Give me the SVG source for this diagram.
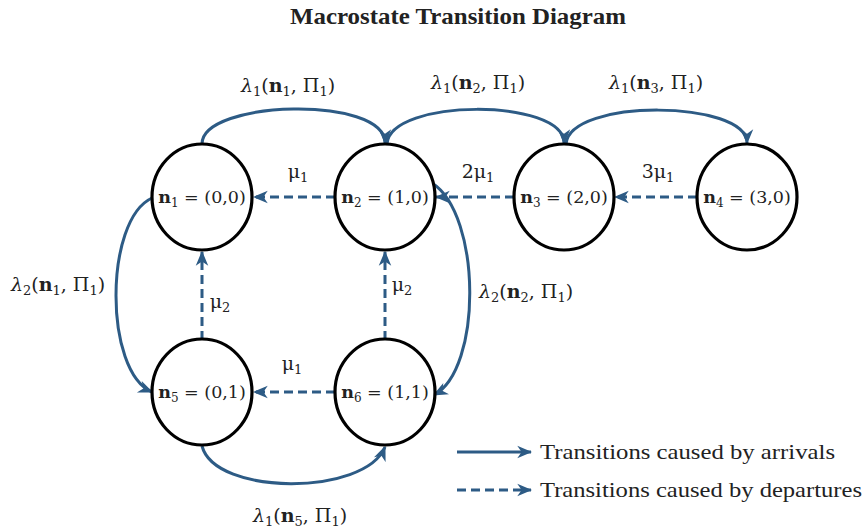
<svg xmlns="http://www.w3.org/2000/svg" width="866" height="531" viewBox="0 0 866 531">
<style>
.t{font-family:"Liberation Serif","DejaVu Serif",serif;fill:#222}
.m{font-family:"DejaVu Serif","Liberation Serif",serif;fill:#222}
.lab{font-size:19px}
.nl{font-size:17.5px}
.b{font-weight:bold}
.node{fill:#fff;stroke:#000;stroke-width:3.2}
.arr{fill:none;stroke:#2d5b85;stroke-width:3}
.dash{fill:none;stroke:#2d5b85;stroke-width:3;stroke-dasharray:9 5}
</style>
<defs>
<marker id="ah" viewBox="0 0 12 10" refX="11" refY="5" markerWidth="5" markerHeight="5" orient="auto" markerUnits="strokeWidth">
<path d="M0,0 L12,5 L0,10 L3.5,5 z" fill="#2d5b85"/>
</marker>
</defs>
<text class="t b" x="290" y="24" font-size="23" textLength="336" lengthAdjust="spacingAndGlyphs">Macrostate Transition Diagram</text>

<g id="connectors">
<path class="arr" d="M202,144 C202,100 385,95 385,143" marker-end="url(#ah)"/>
<path class="arr" d="M387,144 C390,98 564,98 564,143" marker-end="url(#ah)"/>
<path class="arr" d="M566,144 C570,98 747,100 747,143" marker-end="url(#ah)"/>
<path class="dash" d="M335,197 L254,197" marker-end="url(#ah)"/>
<path class="dash" d="M514,197 L436,197" marker-end="url(#ah)"/>
<path class="dash" d="M697,197 L615,197" marker-end="url(#ah)"/>
<path class="dash" d="M335,392 L254,392" marker-end="url(#ah)"/>
<path class="dash" d="M202,340 L202,252" marker-end="url(#ah)"/>
<path class="dash" d="M385,340 L385,252" marker-end="url(#ah)"/>
<path class="arr" d="M152,198 C104,220 104,372 152,392" marker-end="url(#ah)"/>
<path class="arr" d="M432,183 C482,215 482,370 434,395" marker-end="url(#ah)"/>
<path class="arr" d="M202,446 C215,496 365,496 385,447" marker-end="url(#ah)"/>
<path class="arr" d="M457,452 L531,452" marker-end="url(#ah)"/>
<path class="dash" d="M457,490 L531,490" marker-end="url(#ah)"/>
</g>

<g id="n1"><ellipse class="node" cx="202" cy="197" rx="50" ry="53"/>
<text class="m nl" x="202" y="203" text-anchor="middle"><tspan class="b">n</tspan><tspan font-size="12" dy="4">1</tspan><tspan dy="-4"> = (0,0)</tspan></text></g>
<g id="n2"><ellipse class="node" cx="385" cy="197" rx="50" ry="53"/>
<text class="m nl" x="385" y="203" text-anchor="middle"><tspan class="b">n</tspan><tspan font-size="12" dy="4">2</tspan><tspan dy="-4"> = (1,0)</tspan></text></g>
<g id="n3"><ellipse class="node" cx="564" cy="197" rx="50" ry="53"/>
<text class="m nl" x="564" y="203" text-anchor="middle"><tspan class="b">n</tspan><tspan font-size="12" dy="4">3</tspan><tspan dy="-4"> = (2,0)</tspan></text></g>
<g id="n4"><ellipse class="node" cx="747" cy="197" rx="50" ry="53"/>
<text class="m nl" x="747" y="203" text-anchor="middle"><tspan class="b">n</tspan><tspan font-size="12" dy="4">4</tspan><tspan dy="-4"> = (3,0)</tspan></text></g>
<g id="n5"><ellipse class="node" cx="202" cy="392" rx="50" ry="53"/>
<text class="m nl" x="202" y="398" text-anchor="middle"><tspan class="b">n</tspan><tspan font-size="12" dy="4">5</tspan><tspan dy="-4"> = (0,1)</tspan></text></g>
<g id="n6"><ellipse class="node" cx="385" cy="392" rx="50" ry="53"/>
<text class="m nl" x="385" y="398" text-anchor="middle"><tspan class="b">n</tspan><tspan font-size="12" dy="4">6</tspan><tspan dy="-4"> = (1,1)</tspan></text></g>

<g id="labels">
<text class="m lab" x="288" y="92" text-anchor="middle"><tspan font-style="italic">λ</tspan><tspan font-size="13" dy="4">1</tspan><tspan dy="-4">(</tspan><tspan class="b">n</tspan><tspan font-size="13" dy="4">1</tspan><tspan dy="-4">, Π</tspan><tspan font-size="13" dy="4">1</tspan><tspan dy="-4">)</tspan></text>
<text class="m lab" x="478" y="89" text-anchor="middle"><tspan font-style="italic">λ</tspan><tspan font-size="13" dy="4">1</tspan><tspan dy="-4">(</tspan><tspan class="b">n</tspan><tspan font-size="13" dy="4">2</tspan><tspan dy="-4">, Π</tspan><tspan font-size="13" dy="4">1</tspan><tspan dy="-4">)</tspan></text>
<text class="m lab" x="656" y="89" text-anchor="middle"><tspan font-style="italic">λ</tspan><tspan font-size="13" dy="4">1</tspan><tspan dy="-4">(</tspan><tspan class="b">n</tspan><tspan font-size="13" dy="4">3</tspan><tspan dy="-4">, Π</tspan><tspan font-size="13" dy="4">1</tspan><tspan dy="-4">)</tspan></text>
<text class="m lab" x="58" y="291" text-anchor="middle"><tspan font-style="italic">λ</tspan><tspan font-size="13" dy="4">2</tspan><tspan dy="-4">(</tspan><tspan class="b">n</tspan><tspan font-size="13" dy="4">1</tspan><tspan dy="-4">, Π</tspan><tspan font-size="13" dy="4">1</tspan><tspan dy="-4">)</tspan></text>
<text class="m lab" x="526" y="298" text-anchor="middle"><tspan font-style="italic">λ</tspan><tspan font-size="13" dy="4">2</tspan><tspan dy="-4">(</tspan><tspan class="b">n</tspan><tspan font-size="13" dy="4">2</tspan><tspan dy="-4">, Π</tspan><tspan font-size="13" dy="4">1</tspan><tspan dy="-4">)</tspan></text>
<text class="m lab" x="300" y="522" text-anchor="middle"><tspan font-style="italic">λ</tspan><tspan font-size="13" dy="4">1</tspan><tspan dy="-4">(</tspan><tspan class="b">n</tspan><tspan font-size="13" dy="4">5</tspan><tspan dy="-4">, Π</tspan><tspan font-size="13" dy="4">1</tspan><tspan dy="-4">)</tspan></text>
<text class="m lab" x="298" y="178" text-anchor="middle">μ<tspan font-size="13" dy="4">1</tspan></text>
<text class="m lab" x="478" y="178" text-anchor="middle">2μ<tspan font-size="13" dy="4">1</tspan></text>
<text class="m lab" x="658" y="178" text-anchor="middle">3μ<tspan font-size="13" dy="4">1</tspan></text>
<text class="m lab" x="292" y="370" text-anchor="middle">μ<tspan font-size="13" dy="4">1</tspan></text>
<text class="m lab" x="220" y="308" text-anchor="middle">μ<tspan font-size="13" dy="4">2</tspan></text>
<text class="m lab" x="402" y="291" text-anchor="middle">μ<tspan font-size="13" dy="4">2</tspan></text>
</g>

<g id="legend">
<text class="t" x="540" y="459" font-size="21" textLength="295" lengthAdjust="spacingAndGlyphs">Transitions caused by arrivals</text>
<text class="t" x="540" y="497" font-size="21" textLength="322" lengthAdjust="spacingAndGlyphs">Transitions caused by departures</text>
</g>
</svg>
